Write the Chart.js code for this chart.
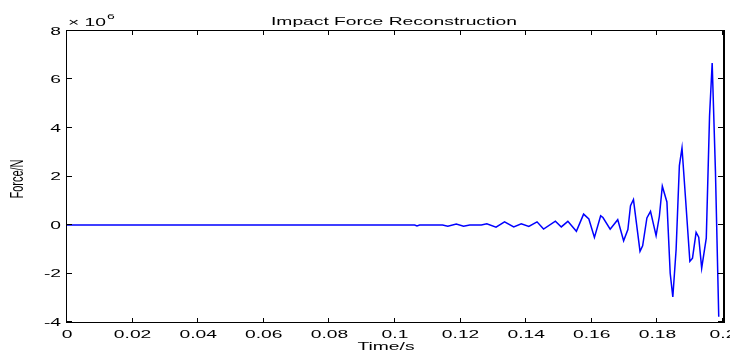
<!DOCTYPE html>
<html>
<head>
<meta charset="utf-8">
<script src="https://cdn.jsdelivr.net/npm/chart.js@4"></script>
<style>
    html, body { margin: 0; padding: 0; background: #fff; }
    #wrap { position: relative; width: 730px; height: 353px; }
</style>
</head>
<body>
<div id="wrap"><canvas id="chart" width="730" height="353"></canvas></div>
<script>
// Reconstructed force signal (time in s, force in 10^6 N)
const times = [
    0, 0.1060, 0.1067, 0.1075, 0.1145, 0.1161, 0.1187, 0.1209, 0.1228, 0.1263,
    0.1280, 0.1308, 0.1334, 0.1362, 0.1385, 0.1408, 0.1433, 0.1453, 0.1489, 0.1507,
    0.1527, 0.1553, 0.1575, 0.1591, 0.1608, 0.1627, 0.1634, 0.1656, 0.1679, 0.1697,
    0.1710, 0.1718, 0.1727, 0.1747, 0.1755, 0.1768, 0.1779, 0.1796, 0.1806, 0.1815,
    0.1829, 0.1839, 0.1847, 0.1857, 0.1867, 0.1875, 0.1886, 0.1899, 0.1907, 0.1918,
    0.1926, 0.1935, 0.1949, 0.1959, 0.1967, 0.1977, 0.1987
];
const forces = [
    0, 0, -0.04, 0, 0, -0.05, 0.04, -0.05, 0, 0,
    0.05, -0.09, 0.13, -0.08, 0.05, -0.06, 0.13, -0.17, 0.16, -0.08,
    0.15, -0.26, 0.45, 0.25, -0.51, 0.38, 0.31, -0.17, 0.22, -0.65,
    -0.19, 0.8, 1.05, -1.09, -0.86, 0.29, 0.56, -0.44, 0.36, 1.6,
    0.95, -1.99, -2.97, -1.02, 2.45, 3.18, 1.05, -1.5, -1.37, -0.3,
    -0.5, -1.78, -0.54, 4.5, 6.68, 2.2, -3.78
];

const xTicks = [0, 0.02, 0.04, 0.06, 0.08, 0.1, 0.12, 0.14, 0.16, 0.18, 0.2];
const xTickLabels = ['0', '0.02', '0.04', '0.06', '0.08', '0.1', '0.12', '0.14', '0.16', '0.18', '0.2'];
const yTicks = [-4, -2, 0, 2, 4, 6, 8];
const yTickLabels = ['-4', '-2', '0', '2', '4', '6', '8'];

const TITLE = 'Impact Force Reconstruction';
const X_TITLE = 'Time/s';
const Y_TITLE = 'Force/N';
const FONT = '"Liberation Sans", Arial, Helvetica, sans-serif';

// the reference text is stretched sideways, so text is drawn with a horizontal scale
function drawText(ctx, text, x, y, sx, align, baseline) {
    ctx.save();
    ctx.translate(x, y);
    ctx.scale(sx, 1);
    ctx.textAlign = align;
    ctx.textBaseline = baseline;
    ctx.fillText(text, 0, 0);
    ctx.restore();
}

const matlabAxes = {
    id: 'matlabAxes',
    afterDraw(chart) {
        const { ctx, chartArea: a, scales } = chart;
        const xs = scales.x, ys = scales.y;
        const L = a.left, R = a.right, T = a.top, B = a.bottom;

        ctx.save();
        ctx.strokeStyle = '#000';
        ctx.lineWidth = 1;

        // box, right edge a bit heavier as in the reference
        ctx.strokeRect(L - 0.5, T - 0.5, R - L + 1, B - T + 1);
        ctx.lineWidth = 2;
        ctx.beginPath();
        ctx.moveTo(R + 1, T - 1);
        ctx.lineTo(R + 1, B + 1);
        ctx.stroke();
        ctx.lineWidth = 1;

        // inward ticks on all four sides
        ctx.beginPath();
        xTicks.forEach(v => {
            const px = Math.round(xs.getPixelForValue(v)) - 0.5;
            ctx.moveTo(px, B); ctx.lineTo(px, B - 4);
            ctx.moveTo(px, T); ctx.lineTo(px, T + 4);
        });
        yTicks.forEach(v => {
            const py = Math.round(ys.getPixelForValue(v)) - 0.5;
            ctx.moveTo(L, py); ctx.lineTo(L + 5, py);
            ctx.moveTo(R, py); ctx.lineTo(R - 5, py);
        });
        ctx.stroke();

        ctx.fillStyle = '#000';
        ctx.font = '11px ' + FONT;
        const sx = 246 / ctx.measureText(TITLE).width;

        // tick labels
        xTicks.forEach((v, i) => {
            drawText(ctx, xTickLabels[i], xs.getPixelForValue(v), 337.5, sx, 'center', 'alphabetic');
        });
        yTicks.forEach((v, i) => {
            drawText(ctx, yTickLabels[i], 61, ys.getPixelForValue(v) + 0.5, sx, 'right', 'middle');
        });

        // title and axis titles
        drawText(ctx, TITLE, 394, 24.5, sx, 'center', 'alphabetic');
        drawText(ctx, X_TITLE, 386, 350, sx, 'center', 'alphabetic');

        ctx.save();
        ctx.translate(18, 179);
        ctx.rotate(-Math.PI / 2);
        ctx.scale(1, sx);
        ctx.textAlign = 'center';
        ctx.textBaseline = 'middle';
        ctx.fillText(Y_TITLE, 0, 0);
        ctx.restore();

        // exponent
        drawText(ctx, '\u00d7 10', 68, 26, sx, 'left', 'alphabetic');
        const w = ctx.measureText('\u00d7 10').width * sx;
        ctx.font = '8px ' + FONT;
        drawText(ctx, '6', 68 + w + 1, 18.5, sx, 'left', 'alphabetic');

        ctx.restore();
    }
};

new Chart(document.getElementById('chart'), {
    type: 'line',
    data: {
        datasets: [{
            data: times.map((t, i) => ({ x: t, y: forces[i] })),
            borderColor: '#0000ff',
            borderWidth: 1.5,
            pointRadius: 0,
            tension: 0,
            fill: false,
        }],
    },
    options: {
        responsive: false,
        animation: false,
        events: [],
        layout: { padding: { left: 0, right: 7, top: 31, bottom: 0 } },
        plugins: {
            legend: { display: false },
            tooltip: { enabled: false },
        },
        scales: {
            x: {
                type: 'linear',
                min: 0,
                max: 0.2,
                grid: { display: false },
                border: { display: false },
                ticks: { display: false },
                afterBuildTicks: s => { s.ticks = xTicks.map(v => ({ value: v })); },
                afterFit: s => { s.height = 31; s.paddingLeft = 0; s.paddingRight = 0; },
            },
            y: {
                min: -4,
                max: 8,
                grid: { display: false },
                border: { display: false },
                ticks: { display: false },
                afterBuildTicks: s => { s.ticks = yTicks.map(v => ({ value: v })); },
                afterFit: s => { s.width = 67; s.paddingTop = 0; s.paddingBottom = 0; },
            },
        },
    },
    plugins: [matlabAxes],
});
</script>
</body>
</html>
